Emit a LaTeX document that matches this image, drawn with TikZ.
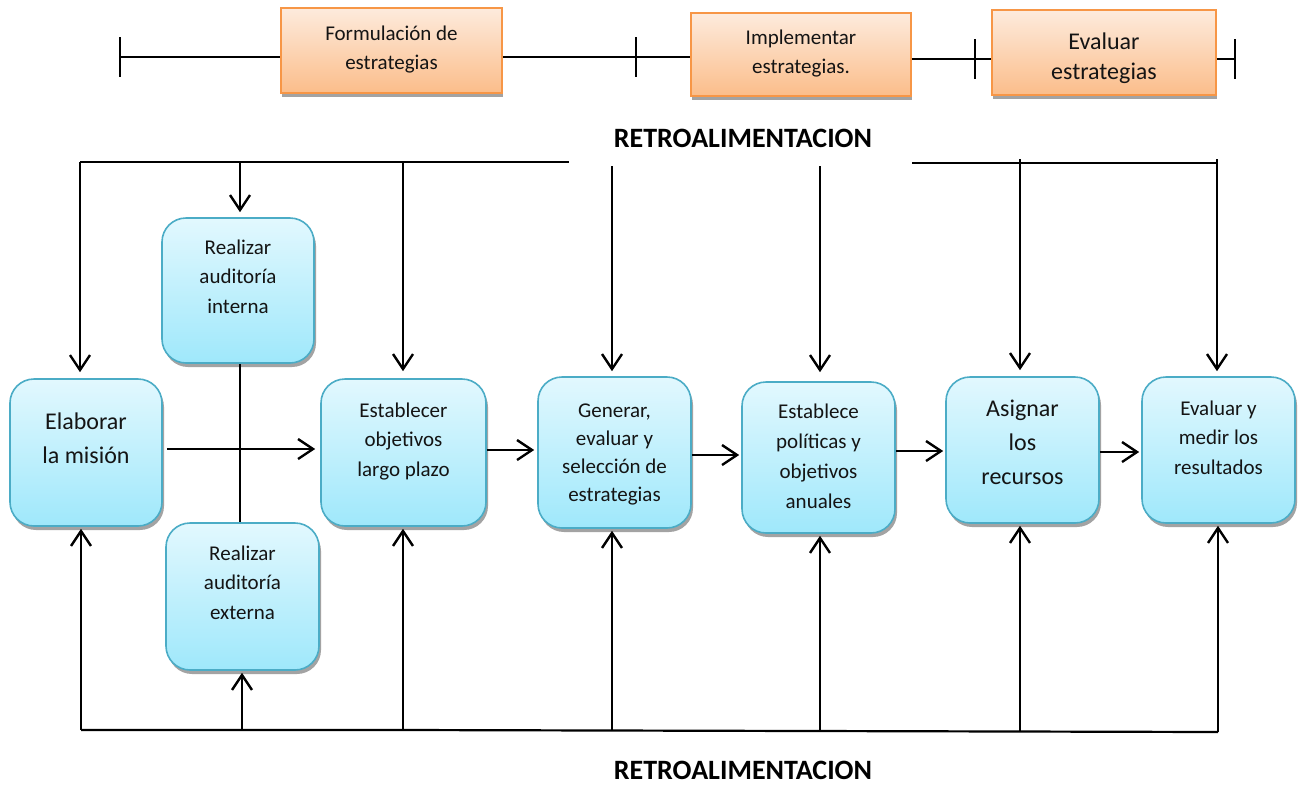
\documentclass[tikz,border=0pt]{standalone}
\usepackage{fontspec}
\setmainfont{Carlito}
\usetikzlibrary{arrows.meta,shadows}

\definecolor{bluetop}{HTML}{E2F8FE}
\definecolor{bluebot}{HTML}{9FE8FB}
\definecolor{blueedge}{HTML}{4BACC6}
\definecolor{orgtop}{HTML}{FDEBDD}
\definecolor{orgbot}{HTML}{FBBD8A}
\definecolor{orgedge}{HTML}{F79646}

\tikzset{
  flow/.style={rounded corners=24pt, draw=blueedge, line width=1.6pt,
    top color=bluetop, bottom color=bluebot,
    drop shadow={shadow xshift=2pt, shadow yshift=-4pt, fill=black!40, opacity=0.9}},
  phase/.style={draw=orgedge, line width=1.6pt, top color=orgtop, bottom color=orgbot,
    drop shadow={shadow xshift=1pt, shadow yshift=-4pt, fill=black!40, opacity=0.9}},
  txt/.style={align=center, inner sep=0pt, text=black!92,
    execute at begin node=\strut, execute at end node=\strut},
  small/.style={font=\fontsize{21}{29.5}\selectfont},
  large/.style={font=\fontsize{24}{34}\selectfont},
  link/.style={line width=2.4pt, -{Straight Barb[length=15pt,width=20pt]}},
  fb/.style={line width=2.2pt},
  tl/.style={line width=1.8pt},
  title/.style={font=\bfseries\fontsize{28}{30}\selectfont, inner sep=0pt}
}

\begin{document}
\begin{tikzpicture}[x=1pt, y=-1pt]
\useasboundingbox (0,0) rectangle (1304,785);

% ---------- phase timeline ----------
\node[phase, minimum width=221pt, minimum height=85pt] (f1) at (391.5,50.5) {};
\node[phase, minimum width=220pt, minimum height=83pt] (f2) at (801,54.5) {};
\node[phase, minimum width=224pt, minimum height=85pt] (f3) at (1104,52.5) {};
\node[txt, small] (tf1) at (391.5,52) {Formulación de\\estrategias};
\node[txt, small] (tf2) at (801,56) {Implementar\\estrategias.};
\node[txt, font=\fontsize{24}{30}\selectfont] (tf3) at (1104,61) {Evaluar\\estrategias};

\coordinate (k1) at (120,57);
\coordinate (k2) at (636,57);
\coordinate (k3) at (975,59);
\coordinate (k4) at (1235,59);
\foreach \k in {k1,k2,k3,k4} \draw[tl] (\k) ++(0,-20) -- ++(0,40);
\draw[tl] (k1) -- (f1.west |- k1);
\draw[tl] (f1.east |- k2) -- (k2) -- (f2.west |- k2);
\draw[tl] (f2.east |- k3) -- (k3) -- (f3.west |- k3);
\draw[tl] (f3.east |- k4) -- (k4);

% ---------- feedback titles ----------
\node[title] (rtop) at (743,138) {RETROALIMENTACION};
\node[title] (rbot) at (743,770) {RETROALIMENTACION};

% ---------- process boxes ----------
\node[flow, minimum width=152pt, minimum height=147pt] (mis) at (86,452.5) {};
\node[flow, minimum width=152pt, minimum height=145pt] (int) at (238,290.5) {};
\node[flow, minimum width=153pt, minimum height=147pt] (ext) at (242.5,596.5) {};
\node[flow, minimum width=165pt, minimum height=147pt] (obj) at (403.5,452.5) {};
\node[flow, minimum width=153pt, minimum height=151pt] (gen) at (614.5,452.5) {};
\node[flow, minimum width=153pt, minimum height=151pt] (pol) at (818.5,457.5) {};
\node[flow, minimum width=153pt, minimum height=146pt] (rec) at (1022.5,450) {};
\node[flow, minimum width=153pt, minimum height=146pt] (res) at (1218.5,450) {};

\node[txt, large] (tmis) at (86,443) {Elaborar\\la misión};
\node[txt, small] (tint) at (238,281) {Realizar\\auditoría\\interna};
\node[txt, small] (text) at (242.5,587) {Realizar\\auditoría\\externa};
\node[txt, small] (tobj) at (403.5,444) {Establecer\\objetivos\\largo plazo};
\node[txt, small, font=\fontsize{21}{28}\selectfont] (tgen) at (614.5,457) {Generar,\\evaluar y\\selección de\\estrategias};
\node[txt, small, font=\fontsize{21}{30}\selectfont] (tpol) at (818.5,461) {Establece\\políticas y\\objetivos\\anuales};
\node[txt, large] (trec) at (1022.5,447) {Asignar\\los\\recursos};
\node[txt, small] (tres) at (1218.5,442) {Evaluar y\\medir los\\resultados};

% ---------- main flow ----------
\coordinate (h1) at (0,449);
\coordinate (h2) at (0,450);
\coordinate (h3) at (0,455);
\coordinate (h4) at (0,451);
\coordinate (h5) at (0,452);
\draw[link, shorten <=4pt, shorten >=5pt] (mis.east |- h1) -- (obj.west |- h1);
\draw[link, shorten >=3pt] (obj.east |- h2) -- (gen.west |- h2);
\draw[link, shorten >=2pt] (gen.east |- h3) -- (pol.west |- h3);
\draw[link, shorten >=2pt] (pol.east |- h4) -- (rec.west |- h4);
\draw[link, shorten >=2pt] (rec.east |- h5) -- (res.west |- h5);

% audit link crossing the mission arrow
\coordinate (ca) at (240,0);
\draw[fb] (ca |- int.south) -- (ca |- ext.north);

% ---------- upper feedback ----------
\coordinate (ta) at (80,162);
\coordinate (tb) at (240,162);
\coordinate (tc) at (403,162);
\coordinate (tl1) at (569,162);
\coordinate (td) at (612,166);
\coordinate (te) at (820,166);
\coordinate (tr1) at (912,163);
\coordinate (tf) at (1020,159);
\coordinate (tg) at (1217,159);
\coordinate (tr2) at (1217,163);
\draw[fb] (ta) -- (tl1);
\draw[fb] (tr1) -- (tr2);
\draw[link, shorten >=6pt] (ta) -- (ta |- mis.north);
\draw[link, shorten >=5pt] (tb) -- (tb |- int.north);
\draw[link, shorten >=7pt] (tc) -- (tc |- obj.north);
\draw[link, shorten >=5pt] (td) -- (td |- gen.north);
\draw[link, shorten >=9pt] (te) -- (te |- pol.north);
\draw[link, shorten >=6pt] (tf) -- (tf |- rec.north);
\draw[link, shorten >=5pt] (tg) -- (tg |- res.north);

% ---------- lower feedback ----------
\coordinate (ba) at (81,730);
\coordinate (bb) at (242,730);
\coordinate (bc) at (403,730);
\coordinate (bd) at (612,731);
\coordinate (be) at (820,731);
\coordinate (bf) at (1020,732);
\coordinate (bg) at (1218,732);
\draw[fb] (ba) -- (bc) -- (bg);
\draw[link, shorten >=2pt] (ba) -- (ba |- mis.south);
\draw[link, shorten >=2pt] (bb) -- (bb |- ext.south);
\draw[link, shorten >=2pt] (bc) -- (bc |- obj.south);
\draw[link, shorten >=2pt] (bd) -- (bd |- gen.south);
\draw[link, shorten >=2pt] (be) -- (be |- pol.south);
\draw[link, shorten >=2pt] (bf) -- (bf |- rec.south);
\draw[link, shorten >=2pt] (bg) -- (bg |- res.south);
\end{tikzpicture}
\end{document}
